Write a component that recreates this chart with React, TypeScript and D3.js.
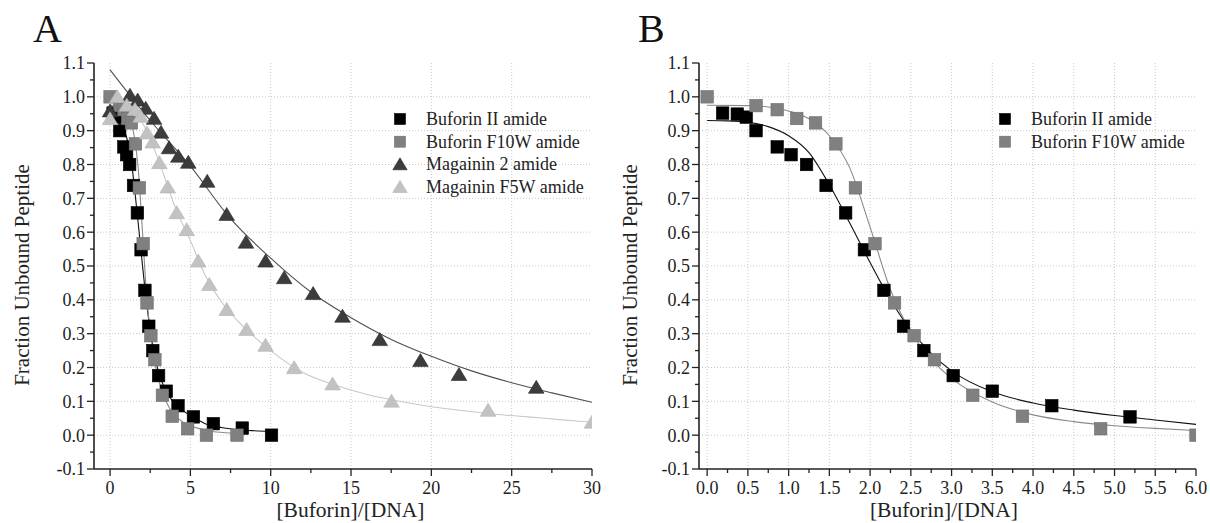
import React from "react";
import * as d3 from "d3";

// ---------- data ----------
const bufIIx = [0.19, 0.37, 0.48, 0.6, 0.86, 1.03, 1.22, 1.46, 1.7, 1.93, 2.17, 2.41, 2.66, 3.02, 3.5, 4.23, 5.19, 6.43, 8.23, 10.05];
const bufIIy = [0.952, 0.949, 0.94, 0.9, 0.852, 0.829, 0.8, 0.738, 0.657, 0.548, 0.428, 0.322, 0.25, 0.176, 0.13, 0.087, 0.054, 0.034, 0.021, 0.0];

const bufF10Wx = [0.0, 0.6, 0.86, 1.1, 1.33, 1.58, 1.82, 2.06, 2.3, 2.54, 2.79, 3.26, 3.87, 4.83, 6.0, 7.9];
const bufF10Wy = [1.0, 0.974, 0.962, 0.936, 0.923, 0.861, 0.731, 0.566, 0.391, 0.294, 0.223, 0.118, 0.056, 0.019, 0.0, 0.0];

const mag2x = [0.0, 1.24, 1.72, 2.22, 2.74, 3.17, 3.67, 4.25, 4.87, 6.05, 7.26, 8.46, 9.68, 10.84, 12.64, 14.47, 16.79, 19.32, 21.72, 26.53];
const mag2y = [0.958, 1.004, 0.99, 0.966, 0.936, 0.895, 0.849, 0.824, 0.806, 0.75, 0.652, 0.57, 0.514, 0.465, 0.418, 0.351, 0.282, 0.22, 0.179, 0.141];

const magF5Wx = [0.0, 0.45, 1.04, 1.55, 1.9, 2.3, 2.65, 3.07, 3.59, 4.15, 4.77, 5.49, 6.18, 7.26, 8.5, 9.68, 11.46, 13.85, 17.52, 23.53, 30.0];
const magF5Wy = [0.935, 1.0, 0.975, 0.962, 0.942, 0.893, 0.866, 0.805, 0.733, 0.657, 0.607, 0.514, 0.445, 0.371, 0.312, 0.265, 0.199, 0.151, 0.1, 0.073, 0.038];

// fitted curves
const bufIIFitX = [0, 0.25, 0.5, 0.75, 1.0, 1.25, 1.5, 1.75, 2.0, 2.25, 2.5, 2.75, 3.0, 3.5, 4.0, 4.5, 5.0, 5.5, 6.0, 7, 8, 9, 10];
const bufIIFitY = [0.93, 0.929, 0.925, 0.912, 0.885, 0.835, 0.74, 0.627, 0.51, 0.4, 0.31, 0.242, 0.19, 0.128, 0.095, 0.074, 0.058, 0.045, 0.032, 0.022, 0.016, 0.013, 0.011];

const bufF10WFitX = [0, 0.5, 0.75, 1.0, 1.25, 1.5, 1.75, 2.0, 2.25, 2.5, 2.75, 3.0, 3.5, 4.0, 4.5, 5.0, 5.5, 6.0, 7, 8];
const bufF10WFitY = [0.975, 0.974, 0.97, 0.958, 0.935, 0.885, 0.79, 0.615, 0.43, 0.305, 0.225, 0.168, 0.098, 0.06, 0.04, 0.028, 0.02, 0.014, 0.008, 0.005];

const mag2FitX = [0, 2.5, 5, 7.5, 10, 12.5, 15, 17.5, 20, 22.5, 25, 27.5, 30];
const mag2FitY = [1.08, 0.93, 0.795, 0.64, 0.523, 0.423, 0.347, 0.283, 0.233, 0.19, 0.155, 0.125, 0.097];

const magF5WFitX = [0, 1, 1.5, 2, 2.5, 3, 3.5, 4, 5, 6, 7, 8, 9, 10, 12, 14, 16, 18, 20, 22, 24, 26, 28, 30];
const magF5WFitY = [1.0, 0.985, 0.96, 0.925, 0.875, 0.815, 0.748, 0.68, 0.575, 0.465, 0.39, 0.335, 0.29, 0.25, 0.185, 0.148, 0.12, 0.1, 0.084, 0.072, 0.062, 0.054, 0.046, 0.038];

const yTicks = [-0.1, 0.0, 0.1, 0.2, 0.3, 0.4, 0.5, 0.6, 0.7, 0.8, 0.9, 1.0, 1.1];
const xTicksA = [0, 5, 10, 15, 20, 25, 30];
const xTicksB = [0.0, 0.5, 1.0, 1.5, 2.0, 2.5, 3.0, 3.5, 4.0, 4.5, 5.0, 5.5, 6.0];

const namesA = ["Buforin II amide", "Buforin F10W amide", "Magainin 2 amide", "Magainin F5W amide"];
const namesB = ["Buforin II amide", "Buforin F10W amide"];

const zip = (xs: number[], ys: number[]) => xs.map((x, i) => [x, ys[i]] as [number, number]);

const FONT = "'Liberation Serif', 'Times New Roman', serif";

type Series = {
  name: string;
  pts: [number, number][];
  fit: [number, number][];
  shape: "square" | "triangle";
  fill: string;
  stroke: string;
  line: string;
};

const S_BUFII = { shape: "square" as const, fill: "#000000", stroke: "#000000", line: "#111111" };
const S_F10W = { shape: "square" as const, fill: "#808080", stroke: "#6e6e6e", line: "#8a8a8a" };
const S_MAG2 = { shape: "triangle" as const, fill: "#3c3c3c", stroke: "#2a2a2a", line: "#505050" };
const S_F5W = { shape: "triangle" as const, fill: "#c2c2c2", stroke: "#b4b4b4", line: "#c8c8c8" };

function Marker({ shape, x, y, fill, stroke, size }: any) {
  if (shape === "square") {
    return <rect x={x - size / 2} y={y - size / 2} width={size} height={size} fill={fill} stroke={stroke} strokeWidth={0.6} />;
  }
  const w = size * 1.2;
  const h = size * 1.0;
  const p = `M${x},${y - h * 0.55} L${x + w / 2},${y + h * 0.45} L${x - w / 2},${y + h * 0.45} Z`;
  return <path d={p} fill={fill} stroke={stroke} strokeWidth={0.6} />;
}

function Panel({ id, letter, left, right, top, bottom, xDomain, xTicks, xMinorStep, xFmt, series, legend, yTitleX, xTitleX, letterX }: any) {
  const x = d3.scaleLinear().domain(xDomain).range([left, right]);
  const y = d3.scaleLinear().domain([-0.1, 1.1]).range([bottom, top]);
  const line = d3
    .line<[number, number]>()
    .x((d) => x(d[0]))
    .y((d) => y(d[1]))
    .curve(d3.curveMonotoneX);

  const xMinor: number[] = [];
  for (let v = xTicks[0]; v <= xTicks[xTicks.length - 1] + 1e-9; v += xMinorStep) xMinor.push(+v.toFixed(4));
  const yMinor: number[] = [];
  for (let v = -0.1; v <= 1.1 + 1e-9; v += 0.05) yMinor.push(+v.toFixed(3));

  const gridY = yTicks.filter((v) => v > -0.05 && v < 1.05);
  const gridX = xTicks.filter((v: number) => x(v) > left + 2 && x(v) < right - 2);

  return (
    <g>
      <defs>
        <clipPath id={`clip-${id}`}>
          <rect x={left} y={top - 10} width={right - left} height={bottom - top + 10} />
        </clipPath>
      </defs>
      {/* grid */}
      {gridY.map((v) => (
        <line key={`gy${v}`} x1={left} x2={right} y1={y(v)} y2={y(v)} stroke="#c9c9c9" strokeWidth={1} strokeDasharray="1,2" />
      ))}
      {gridX.map((v: number) => (
        <line key={`gx${v}`} x1={x(v)} x2={x(v)} y1={top} y2={bottom} stroke="#c9c9c9" strokeWidth={1} strokeDasharray="1,2" />
      ))}
      {/* curves and points */}
      <g clipPath={`url(#clip-${id})`}>
        {series.map((s: Series) => (
          <path key={`l${s.name}`} d={line(s.fit.filter((d) => d[0] <= xDomain[1] + 0.5)) || ""} fill="none" stroke={s.line} strokeWidth={1.1} />
        ))}
        {series.map((s: Series) =>
          s.pts
            .filter((d) => d[0] <= xDomain[1] + 0.5)
            .map((d, i) => <Marker key={`m${s.name}${i}`} shape={s.shape} x={x(d[0])} y={y(d[1])} fill={s.fill} stroke={s.stroke} size={s.shape === "square" ? 12.5 : 13} />)
        )}
      </g>
      {/* axes */}
      <line x1={left} x2={left} y1={top} y2={bottom} stroke="#222" strokeWidth={1.6} />
      <line x1={left} x2={right} y1={bottom} y2={bottom} stroke="#222" strokeWidth={1.6} />
      {yMinor.map((v) => {
        const major = yTicks.some((t) => Math.abs(t - v) < 1e-6);
        return <line key={`yt${v}`} x1={left} x2={left - (major ? 7 : 4)} y1={y(v)} y2={y(v)} stroke="#222" strokeWidth={1.3} />;
      })}
      {yTicks.map((v) => (
        <text key={`yl${v}`} x={left - 9} y={y(v)} dy="0.36em" textAnchor="end" fontFamily={FONT} fontSize={18} fill="#222">
          {v.toFixed(1)}
        </text>
      ))}
      {xMinor.map((v) => {
        const major = xTicks.some((t: number) => Math.abs(t - v) < 1e-6);
        return <line key={`xt${v}`} x1={x(v)} x2={x(v)} y1={bottom} y2={bottom + (major ? 7 : 4)} stroke="#222" strokeWidth={1.3} />;
      })}
      {xTicks.map((v: number) => (
        <text key={`xl${v}`} x={x(v)} y={bottom + 25} textAnchor="middle" fontFamily={FONT} fontSize={18} fill="#222">
          {xFmt(v)}
        </text>
      ))}
      {/* titles */}
      <text transform={`translate(${yTitleX},${(top + bottom) / 2 + 9}) rotate(-90)`} textAnchor="middle" fontFamily={FONT} fontSize={21} fill="#222">
        Fraction Unbound Peptide
      </text>
      <text x={xTitleX} y={bottom + 48} textAnchor="middle" fontFamily={FONT} fontSize={21.5} fill="#222">
        [Buforin]/[DNA]
      </text>
      <text x={letterX} y={42} fontFamily={FONT} fontSize={40} fill="#111">
        {letter}
      </text>
      {/* legend */}
      {series.map((s: Series, i: number) => (
        <g key={`lg${s.name}`}>
          <Marker shape={s.shape} x={legend.x} y={legend.y + i * 22.7} fill={s.fill} stroke={s.stroke} size={s.shape === "square" ? 11 : 12} />
          <text x={legend.x + 26} y={legend.y + i * 22.7 + 6} fontFamily={FONT} fontSize={18} fill="#222">
            {s.name}
          </text>
        </g>
      ))}
    </g>
  );
}

export default function App() {
  const seriesA: Series[] = [
    { name: namesA[0], pts: zip(bufIIx, bufIIy), fit: zip(bufIIFitX, bufIIFitY), ...S_BUFII },
    { name: namesA[1], pts: zip(bufF10Wx, bufF10Wy), fit: zip(bufF10WFitX, bufF10WFitY), ...S_F10W },
    { name: namesA[2], pts: zip(mag2x, mag2y), fit: zip(mag2FitX, mag2FitY), ...S_MAG2 },
    { name: namesA[3], pts: zip(magF5Wx, magF5Wy), fit: zip(magF5WFitX, magF5WFitY), ...S_F5W },
  ];
  const seriesB: Series[] = [
    { name: namesB[0], pts: zip(bufIIx, bufIIy), fit: zip(bufIIFitX, bufIIFitY), ...S_BUFII },
    { name: namesB[1], pts: zip(bufF10Wx, bufF10Wy), fit: zip(bufF10WFitX, bufF10WFitY), ...S_F10W },
  ];
  return (
    <svg width={1210} height={523} style={{ position: "absolute", left: 0, top: 0, background: "#fff" }}>
      <rect width={1210} height={523} fill="#fff" />
      <Panel
        id="A"
        letter="A"
        left={94}
        right={592}
        top={63}
        bottom={469}
        xDomain={[-1, 30]}
        xTicks={xTicksA}
        xMinorStep={2.5}
        xFmt={(v: number) => String(v)}
        series={seriesA}
        legend={{ x: 400, y: 119 }}
        yTitleX={28.5}
        xTitleX={350.5}
        letterX={33}
      />
      <Panel
        id="B"
        letter="B"
        left={699}
        right={1196}
        top={63}
        bottom={469}
        xDomain={[-0.1, 6]}
        xTicks={xTicksB}
        xMinorStep={0.25}
        xFmt={(v: number) => v.toFixed(1)}
        series={seriesB}
        legend={{ x: 1005, y: 119 }}
        yTitleX={637}
        xTitleX={944}
        letterX={638}
      />
    </svg>
  );
}
